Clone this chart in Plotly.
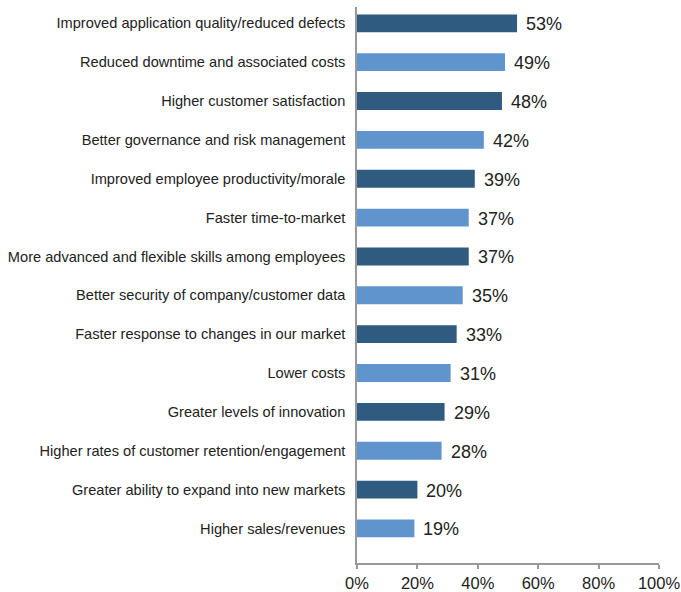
import plotly.graph_objects as go

categories = [
    "Improved application quality/reduced defects",
    "Reduced downtime and associated costs",
    "Higher customer satisfaction",
    "Better governance and risk management",
    "Improved employee productivity/morale",
    "Faster time-to-market",
    "More advanced and flexible skills among employees",
    "Better security of company/customer data",
    "Faster response to changes in our market",
    "Lower costs",
    "Greater levels of innovation",
    "Higher rates of customer retention/engagement",
    "Greater ability to expand into new markets",
    "Higher sales/revenues",
]
values = [53, 49, 48, 42, 39, 37, 37, 35, 33, 31, 29, 28, 20, 19]
tick_vals = [0, 20, 40, 60, 80, 100]
tick_text = ["0%", "20%", "40%", "60%", "80%", "100%"]

DARK = "#2F5B80"
LIGHT = "#6094CD"
colors = [DARK if i % 2 == 0 else LIGHT for i in range(len(categories))]

fig = go.Figure(go.Bar(
    y=categories,
    x=values,
    orientation="h",
    marker=dict(color=colors, line=dict(width=0)),
    width=0.46,
))

for c, v in zip(categories, values):
    fig.add_annotation(
        x=v, y=c, text=f"{v}%", showarrow=False,
        xanchor="left", yanchor="middle", xshift=7, yshift=-1,
        font=dict(family="Liberation Sans, Arial, sans-serif", size=18, color="#222"),
    )

fig.update_layout(
    width=681, height=592,
    margin=dict(l=357, r=22, t=7, b=29, autoexpand=False),
    paper_bgcolor="white", plot_bgcolor="white",
    showlegend=False,
    bargap=0.54,
    font=dict(family="Liberation Sans, Arial, sans-serif", color="#222"),
)
fig.update_xaxes(
    range=[0, 100], tickvals=tick_vals, ticktext=tick_text, automargin=False,
    showgrid=False, zeroline=False, showline=True, linecolor="#999", linewidth=1.5,
    ticks="outside", ticklen=4, tickcolor="#999", tickwidth=1.5,
    tickfont=dict(size=16.5, color="#222"),
)
fig.update_yaxes(
    categoryorder="array", categoryarray=categories, automargin=False,
    range=[len(categories) - 1 + 0.89, -0.42],
    showgrid=False, zeroline=False, showline=True, linecolor="#999", linewidth=1.5,
    ticks="", ticklabelstandoff=7,
    tickfont=dict(size=14.6, color="#222"),
)

fig.write_html("out.html")
